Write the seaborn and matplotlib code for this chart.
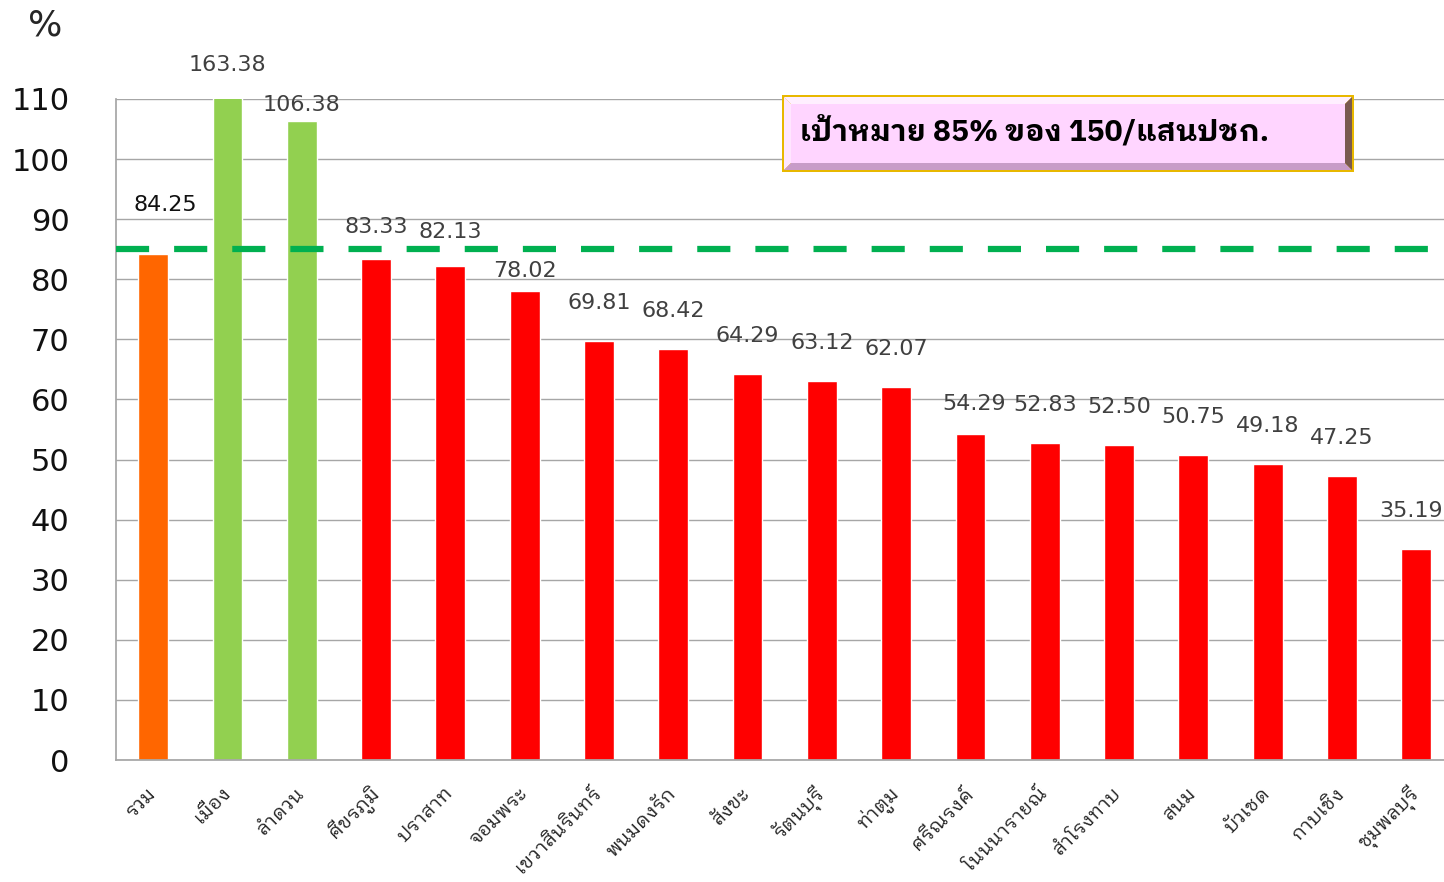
import matplotlib
matplotlib.use("Agg")
import matplotlib.pyplot as plt
import matplotlib.font_manager as fm
from matplotlib.patches import Polygon
import seaborn as sns
import pandas as pd

districts = ["รวม", "เมือง", "ลำดวน", "ศีขรภูมิ", "ปราสาท", "จอมพระ",
             "เขวาสินรินทร์", "พนมดงรัก", "สังขะ", "รัตนบุรี", "ท่าตูม",
             "ศรีณรงค์", "โนนนารายณ์", "สำโรงทาบ", "สนม", "บัวเชด",
             "กาบเชิง", "ชุมพลบุรี"]
values = [84.25, 163.38, 106.38, 83.33, 82.13, 78.02, 69.81, 68.42, 64.29,
          63.12, 62.07, 54.29, 52.83, 52.50, 50.75, 49.18, 47.25, 35.19]
groups = ["total", "over", "over"] + ["under"] * 15
target = 85
target_text = "เป้าหมาย 85% ของ 150/แสนปชก."

palette = {"total": "#FF6600", "over": "#92D050", "under": "#FF0000"}

df = pd.DataFrame({"district": districts, "value": values, "group": groups})

W, H = 1444, 882


def px(x, y):
    # pixel (from top-left) -> figure fraction
    return (x / W, 1 - y / H)


sns.set_theme(style="white")
names = sorted(set(f.name for f in fm.fontManager.ttflist))
thai = [n for n in names if "Thai" in n and "Looped" in n] + [n for n in names if "Thai" in n]
plt.rcParams["font.family"] = thai[:1] + ["DejaVu Sans"]

fig = plt.figure(figsize=(W / 100, H / 100), dpi=100)
ax = fig.add_axes([116 / W, 1 - 760 / H, (W - 116) / W, (760 - 99) / H])

sns.barplot(data=df, x="district", y="value", hue="group", palette=palette,
            dodge=False, width=0.4, legend=False, ax=ax, saturation=1)

ax.set_ylim(0, 110)
ax.set_xlim(-0.5, (W - 116) / 74.3 - 0.5)
ax.set_yticks(range(0, 111, 10))
ax.yaxis.grid(True, color="#A6A6A6", lw=1)
ax.set_axisbelow(True)
for s in ["top", "right"]:
    ax.spines[s].set_visible(False)
ax.spines["left"].set_color("#A6A6A6")
ax.spines["bottom"].set_color("#A6A6A6")
ax.tick_params(axis="y", length=11.5, color="#A6A6A6", labelsize=22, pad=22,
               labelcolor="#111111")
for t in ax.get_yticklabels():
    t.set_family(["DejaVu Sans"])
ax.set_xticks(range(len(districts)))
ax.set_xticklabels(districts, rotation=45, ha="right", va="center",
                   rotation_mode="anchor", fontsize=14)
ax.set_xticks([i - 0.5 for i in range(len(districts))], minor=True)
ax.tick_params(axis="x", which="major", length=0, pad=22)
ax.tick_params(axis="x", which="minor", length=7, color="#A6A6A6")
ax.set_xlabel("")
ax.set_ylabel("")

ax.axhline(target, color="#00B050", lw=4.5, dashes=(5.3, 4), zorder=5)

# label height above bar top (pixels, to text centre); a few were nudged by hand
lift = {0: 49, 2: 16, 3: 32, 4: 34, 5: 20, 11: 30}
shift = {0: 12, 11: 4, 17: -5}
for i, v in enumerate(values):
    if v > 110:
        xy, dy = (i, 110), 34
    else:
        xy, dy = (i, v), lift.get(i, 38)
    dx = shift.get(i, 0)
    ax.annotate(f"{v:.2f}", xy, xytext=(dx * 0.72, dy * 0.72), textcoords="offset points",
                ha="center", va="center", fontsize=16, family=["DejaVu Sans"],
                color="#111111" if i == 0 else "#404040", annotation_clip=False)

fig.text(*px(28, 25), "%", fontsize=26, va="center", ha="left", family=["DejaVu Sans"])

# bevelled target box
x0, x1, y0, y1, b = 782, 1354, 95, 172, 7
fig.patches.append(Polygon([px(x0, y0), px(x1, y0), px(x1, y1), px(x0, y1)],
                           closed=True, transform=fig.transFigure, fc="#E8B800", ec="none"))
xi0, xi1, yi0, yi1 = x0 + 2, x1 - 2, y0 + 2, y1 - 2
faces = [
    ([(xi0, yi0), (xi1, yi0), (xi1 - b, yi0 + b), (xi0 + b, yi0 + b)], "#FFEFFF"),
    ([(xi0, yi0), (xi0 + b, yi0 + b), (xi0 + b, yi1 - b), (xi0, yi1)], "#FFE6FF"),
    ([(xi0, yi1), (xi0 + b, yi1 - b), (xi1 - b, yi1 - b), (xi1, yi1)], "#C89CC8"),
    ([(xi1, yi0), (xi1, yi1), (xi1 - b, yi1 - b), (xi1 - b, yi0 + b)], "#7A5A50"),
    ([(xi0 + b, yi0 + b), (xi1 - b, yi0 + b), (xi1 - b, yi1 - b), (xi0 + b, yi1 - b)], "#FFD5FF"),
]
for pts, c in faces:
    fig.patches.append(Polygon([px(*p) for p in pts], closed=True,
                               transform=fig.transFigure, fc=c, ec="none"))
fig.text(*px(800, 131), target_text, fontsize=21.5, fontweight="bold",
         va="center", ha="left", color="black")

fig.savefig("out.png", dpi=100)
